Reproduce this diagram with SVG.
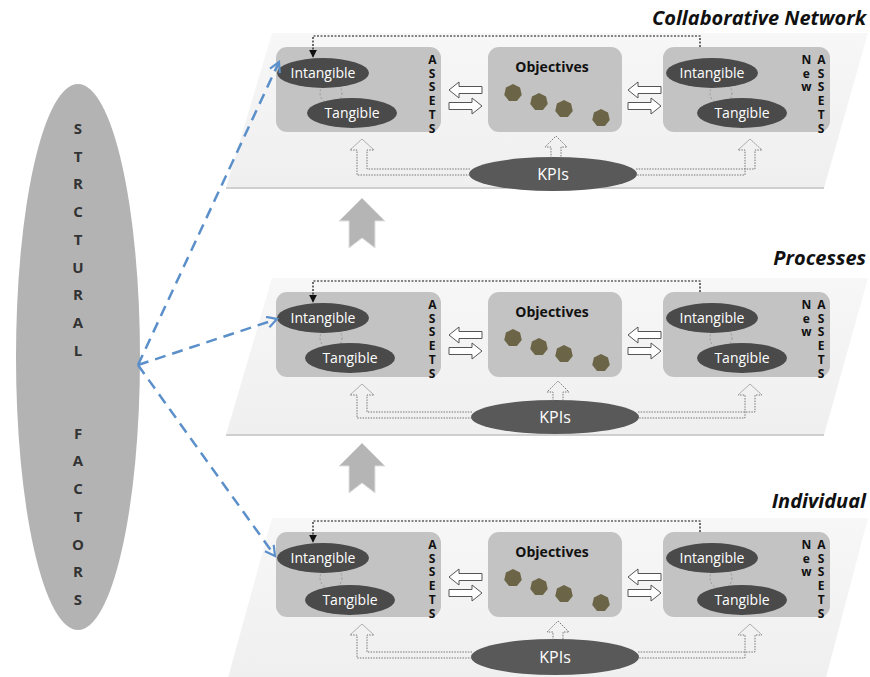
<svg xmlns="http://www.w3.org/2000/svg" width="870" height="677" viewBox="0 0 870 677">
<defs>
<linearGradient id="plane" x1="0" y1="0" x2="0" y2="1">
<stop offset="0" stop-color="#f7f7f7"/><stop offset="1" stop-color="#efefef"/>
</linearGradient>
<marker id="blueHead" viewBox="0 0 12 12" refX="10" refY="6" markerWidth="13" markerHeight="13" markerUnits="userSpaceOnUse" orient="auto">
<path d="M1,1 L10,6 L1,11" fill="none" stroke="#5b8fc9" stroke-width="2"/>
</marker>
<marker id="blackHead" viewBox="0 0 10 10" refX="9" refY="5" markerWidth="8" markerHeight="8" markerUnits="userSpaceOnUse" orient="auto">
<path d="M0,0 L10,5 L0,10 Z" fill="#111"/>
</marker>
<polygon id="hept" points="0,-9 7.04,-5.61 8.77,2 3.9,8.11 -3.9,8.11 -8.77,2 -7.04,-5.61"/>
<path id="arrL" d="M0,0 L10,-8 L10,-3.5 L33,-3.5 L33,3.5 L10,3.5 L10,8 Z"/>
<path id="arrR" d="M33,0 L23,-8 L23,-3.5 L0,-3.5 L0,3.5 L23,3.5 L23,8 Z"/>
<path id="bigUp" d="M0,0 L23,23 L13,23 L13,50 L0,40 L-13,50 L-13,23 L-23,23 Z"/>
</defs>
<style>
.plane{fill:url(#plane);stroke:none}
.edge{stroke:#cfcfcf;stroke-width:2;fill:none}
.box{fill:#c3c3c3}
.oval{fill:#4a4a4a}
.kpi{fill:#595959}
.wt{font-family:"Open Sans","DejaVu Sans",sans-serif;font-size:14px;fill:#fff;text-anchor:middle}
.kt{font-family:"Open Sans","DejaVu Sans",sans-serif;font-size:16px;fill:#fff;text-anchor:middle}
.obj{font-family:"Open Sans","DejaVu Sans",sans-serif;font-size:14px;font-weight:bold;fill:#111;text-anchor:middle}
.vert{font-family:"Open Sans","DejaVu Sans",sans-serif;font-size:12px;font-weight:bold;fill:#111;writing-mode:vertical-rl;text-orientation:upright;letter-spacing:-3.3px}
.sf{font-family:"Open Sans","DejaVu Sans",sans-serif;font-size:15px;font-weight:bold;fill:#333;text-anchor:middle}
.title{font-family:"Open Sans","Liberation Sans",sans-serif;font-size:20px;font-weight:bold;font-style:italic;fill:#111;text-anchor:end}
.hept{fill:#6b6446}
.harr{fill:#fff;stroke:#555;stroke-width:1}
.dotpath{fill:none;stroke:#777;stroke-width:1;stroke-dasharray:1.5 1.2}
.ring{fill:none;stroke:#999;stroke-width:1;stroke-dasharray:2 2}
.fb{fill:none;stroke:#111;stroke-width:1.2;stroke-dasharray:2 1.5}
.blue{fill:none;stroke:#5b8fc9;stroke-width:2.5;stroke-dasharray:11 7}
.big{fill:#b5b5b5;stroke:#e0e0e0;stroke-width:1}
</style>
<rect width="870" height="677" fill="#fff"/>

<g id="structural-factors">
<ellipse cx="78" cy="357" rx="62" ry="273" fill="#b3b3b3"/>
<text class="sf" x="78" y="134">S</text>
<text class="sf" x="78" y="161.7">T</text>
<text class="sf" x="78" y="189.4">R</text>
<text class="sf" x="78" y="217.1">C</text>
<text class="sf" x="78" y="244.8">T</text>
<text class="sf" x="78" y="272.5">U</text>
<text class="sf" x="78" y="300.2">R</text>
<text class="sf" x="78" y="327.9">A</text>
<text class="sf" x="78" y="355.6">L</text>
<text class="sf" x="78" y="438.7">F</text>
<text class="sf" x="78" y="466.4">A</text>
<text class="sf" x="78" y="494.1">C</text>
<text class="sf" x="78" y="521.8">T</text>
<text class="sf" x="78" y="549.5">O</text>
<text class="sf" x="78" y="577.2">R</text>
<text class="sf" x="78" y="604.9">S</text>
</g>

<g id="labels">
<text class="title" x="866" y="25">Collaborative Network</text>
<text class="title" x="866" y="265">Processes</text>
<text class="title" x="866" y="508">Individual</text>
</g>

<g id="layer-collaborative" transform="translate(0,0)">
<polygon class="plane" points="272,33 868,33 824,188 226,188"/>
<line class="edge" x1="226" y1="188" x2="824" y2="188"/>
<g id="cn-assets">
<rect class="box" x="276" y="47" width="165" height="85" rx="11"/>
<circle class="ring" cx="331" cy="93" r="11"/>
<ellipse class="oval" cx="323" cy="73" rx="46" ry="15"/>
<text class="wt" x="323" y="78">Intangible</text>
<ellipse class="oval" cx="352" cy="113" rx="45" ry="15"/>
<text class="wt" x="352" y="118">Tangible</text>
<text class="vert" x="432" y="51">ASSETS</text>
</g>
<g id="cn-objectives">
<rect class="box" x="488" y="47" width="134" height="85" rx="11"/>
<text class="obj" x="552" y="72">Objectives</text>
<use href="#hept" class="hept" x="513" y="93"/><use href="#hept" class="hept" x="539" y="102"/><use href="#hept" class="hept" x="564" y="109"/><use href="#hept" class="hept" x="601" y="118"/>
</g>
<g id="cn-new-assets">
<rect class="box" x="663" y="47" width="167" height="85" rx="11"/>
<circle class="ring" cx="721" cy="93" r="11"/>
<ellipse class="oval" cx="712" cy="73" rx="46" ry="15"/>
<text class="wt" x="712" y="78">Intangible</text>
<ellipse class="oval" cx="742" cy="113" rx="45" ry="15"/>
<text class="wt" x="742" y="118">Tangible</text>
<text class="vert" x="806" y="51">New</text>
<text class="vert" x="821" y="51">ASSETS</text>
</g>
<g id="cn-kpis">
<ellipse class="kpi" cx="553" cy="174" rx="84" ry="17"/>
<text class="kt" x="553" y="180">KPIs</text>
</g>
<g id="cn-connectors">
<use href="#arrL" class="harr" x="449" y="90"/><use href="#arrR" class="harr" x="449" y="106"/>
<use href="#arrL" class="harr" x="628" y="90"/><use href="#arrR" class="harr" x="628" y="106"/>
<path class="dotpath" d="M470,169 L367,169 L367,150 L374,150 L362,139 L350,150 L357,150 L357,175 L470,175"/>
<path class="dotpath" d="M636,169 L755,169 L755,150 L762,150 L750,139 L738,150 L745,150 L745,175 L636,175"/>
<path class="dotpath" d="M551,158 L551,147 L545,147 L556,136 L567,147 L561,147 L561,158"/>
<path class="fb" d="M700,47 L700,36 L313,36 L313,57" marker-end="url(#blackHead)"/>
</g>
</g>

<g id="layer-processes" transform="translate(0,245)">
<polygon class="plane" points="272,33 868,33 824,190 226,190"/>
<line class="edge" x1="226" y1="190" x2="824" y2="190"/>
<g id="pr-assets">
<rect class="box" x="276" y="47" width="165" height="85" rx="11"/>
<circle class="ring" cx="331" cy="93" r="11"/>
<ellipse class="oval" cx="323" cy="73" rx="46" ry="15"/>
<text class="wt" x="323" y="78">Intangible</text>
<ellipse class="oval" cx="350" cy="113" rx="45" ry="15"/>
<text class="wt" x="350" y="118">Tangible</text>
<text class="vert" x="432" y="51">ASSETS</text>
</g>
<g id="pr-objectives">
<rect class="box" x="488" y="47" width="134" height="85" rx="11"/>
<text class="obj" x="552" y="72">Objectives</text>
<use href="#hept" class="hept" x="513" y="93"/><use href="#hept" class="hept" x="539" y="102"/><use href="#hept" class="hept" x="564" y="109"/><use href="#hept" class="hept" x="601" y="118"/>
</g>
<g id="pr-new-assets">
<rect class="box" x="663" y="47" width="167" height="85" rx="11"/>
<circle class="ring" cx="721" cy="93" r="11"/>
<ellipse class="oval" cx="712" cy="73" rx="46" ry="15"/>
<text class="wt" x="712" y="78">Intangible</text>
<ellipse class="oval" cx="742" cy="113" rx="45" ry="15"/>
<text class="wt" x="742" y="118">Tangible</text>
<text class="vert" x="806" y="51">New</text>
<text class="vert" x="821" y="51">ASSETS</text>
</g>
<g id="pr-kpis">
<ellipse class="kpi" cx="555" cy="172" rx="84" ry="17"/>
<text class="kt" x="555" y="178">KPIs</text>
</g>
<g id="pr-connectors">
<use href="#arrL" class="harr" x="449" y="90"/><use href="#arrR" class="harr" x="449" y="106"/>
<use href="#arrL" class="harr" x="628" y="90"/><use href="#arrR" class="harr" x="628" y="106"/>
<path class="dotpath" d="M472,167 L367,167 L367,150 L374,150 L362,139 L350,150 L357,150 L357,173 L472,173"/>
<path class="dotpath" d="M638,167 L755,167 L755,150 L762,150 L750,139 L738,150 L745,150 L745,173 L638,173"/>
<path class="dotpath" d="M553,156 L553,147 L547,147 L558,136 L569,147 L563,147 L563,156"/>
<path class="fb" d="M700,47 L700,36 L313,36 L313,57" marker-end="url(#blackHead)"/>
</g>
</g>

<g id="layer-individual" transform="translate(0,485)">
<polygon class="plane" points="272,33 868,33 824,200 226,200"/>
<g id="in-assets">
<rect class="box" x="276" y="47" width="165" height="85" rx="11"/>
<circle class="ring" cx="331" cy="93" r="11"/>
<ellipse class="oval" cx="323" cy="73" rx="46" ry="15"/>
<text class="wt" x="323" y="78">Intangible</text>
<ellipse class="oval" cx="350" cy="115" rx="45" ry="15"/>
<text class="wt" x="350" y="120">Tangible</text>
<text class="vert" x="432" y="51">ASSETS</text>
</g>
<g id="in-objectives">
<rect class="box" x="488" y="47" width="134" height="85" rx="11"/>
<text class="obj" x="552" y="72">Objectives</text>
<use href="#hept" class="hept" x="513" y="93"/><use href="#hept" class="hept" x="539" y="102"/><use href="#hept" class="hept" x="564" y="109"/><use href="#hept" class="hept" x="601" y="118"/>
</g>
<g id="in-new-assets">
<rect class="box" x="663" y="47" width="167" height="85" rx="11"/>
<circle class="ring" cx="721" cy="93" r="11"/>
<ellipse class="oval" cx="712" cy="73" rx="46" ry="15"/>
<text class="wt" x="712" y="78">Intangible</text>
<ellipse class="oval" cx="742" cy="115" rx="45" ry="15"/>
<text class="wt" x="742" y="120">Tangible</text>
<text class="vert" x="806" y="51">New</text>
<text class="vert" x="821" y="51">ASSETS</text>
</g>
<g id="in-kpis">
<ellipse class="kpi" cx="555" cy="172" rx="84" ry="18"/>
<text class="kt" x="555" y="178">KPIs</text>
</g>
<g id="in-connectors">
<use href="#arrL" class="harr" x="449" y="92"/><use href="#arrR" class="harr" x="449" y="108"/>
<use href="#arrL" class="harr" x="628" y="92"/><use href="#arrR" class="harr" x="628" y="108"/>
<path class="dotpath" d="M472,167 L367,167 L367,150 L374,150 L362,139 L350,150 L357,150 L357,173 L472,173"/>
<path class="dotpath" d="M638,167 L755,167 L755,150 L762,150 L750,139 L738,150 L745,150 L745,173 L638,173"/>
<path class="dotpath" d="M553,155 L553,147 L547,147 L558,136 L569,147 L563,147 L563,155"/>
<path class="fb" d="M700,47 L700,36 L313,36 L313,57" marker-end="url(#blackHead)"/>
</g>
</g>

<g id="connectors">
<use href="#bigUp" class="big" x="362" y="198"/>
<use href="#bigUp" class="big" x="362" y="443"/>
<path class="blue" d="M138,365 L279,62" marker-end="url(#blueHead)"/>
<path class="blue" d="M138,365 L277,319" marker-end="url(#blueHead)"/>
<path class="blue" d="M138,365 L275,556" marker-end="url(#blueHead)"/>
</g>
</svg>
